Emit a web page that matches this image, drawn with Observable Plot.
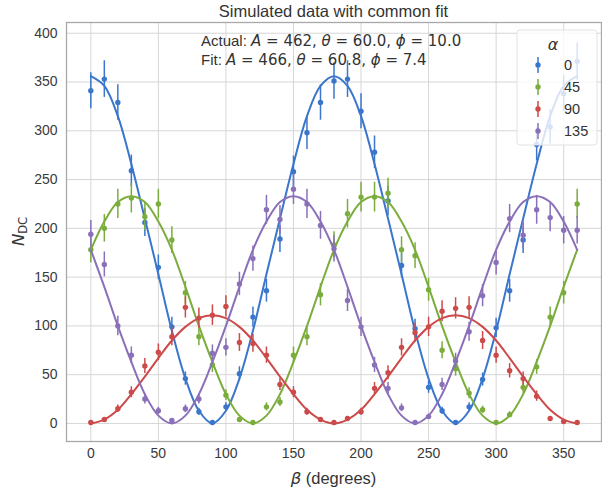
<!DOCTYPE html>
<html>
<head>
<meta charset="utf-8">
<script src="https://cdn.jsdelivr.net/npm/d3@7"></script>
<script src="https://cdn.jsdelivr.net/npm/@observablehq/plot@0.6"></script>
<style>
  html, body { margin: 0; padding: 0; background: #fff; }
  #chart { width: 602px; height: 496px; }
</style>
</head>
<body>
<div id="chart"></div>
<script>
// ---- data ----
const beta = [0,10,20,30,40,50,60,70,80,90,100,110,120,130,140,150,160,170,180,
              190,200,210,220,230,240,250,260,270,280,290,300,310,320,330,340,350,360];
const alphaLabels = ["0", "45", "90", "135"];
const colors = ["#3a76cc", "#7aad3c", "#cc4a4a", "#8a70b8"];

// measured counts N_DC for each alpha
const n0   = [341,353,329,259,206,160,99,46,12,1,17,51,109,136,189,258,298,329,351,
              353,320,278,228,162,97,37,13,1,17,45,98,136,188,286,304,338,371];
const n45  = [178,200,225,231,212,225,188,134,89,60,29,4,1,17,22,70,89,132,183,
              215,232,232,236,178,172,137,75,56,31,14,1,9,37,58,109,134,225];
const n90  = [1,4,15,32,59,73,89,119,108,111,120,83,82,70,40,32,12,4,1,
              5,12,36,52,78,93,99,115,118,119,85,70,54,46,28,5,2,1];
const n135 = [194,163,100,70,25,13,3,15,25,72,78,143,169,219,209,240,225,203,179,
              126,99,60,36,16,1,7,40,64,94,131,165,210,193,219,211,198,198];

// common-fit curves, sampled every 10 degrees
const fit0   = [356,346,315,266,210,153,95,46,13,0,13,46,95,153,210,266,315,346,356,
                346,315,266,210,153,95,46,13,0,13,46,95,153,210,266,315,346,356];
const fit45  = [178,207,227,233,227,207,178,140,100,63,30,8,0,8,30,63,100,140,178,
                207,227,233,227,207,178,140,100,63,30,8,0,8,30,63,100,140,178];
const fit90  = [0,4,14,30,48,67,85,99,108,111,108,99,85,67,48,30,14,4,0,
                4,14,30,48,67,85,99,108,111,108,99,85,67,48,30,14,4,0];
const fit135 = [178,140,100,63,30,8,0,8,30,63,100,140,178,207,227,233,227,207,178,
                140,100,63,30,8,0,8,30,63,100,140,178,207,227,233,227,207,178];

const xTicks = [0,50,100,150,200,250,300,350];
const yTicks = [0,50,100,150,200,250,300,350,400];

const counts = [n0, n45, n90, n135];
const fits = [fit0, fit45, fit90, fit135];

// ---- build marks ----
const seriesMarks = [];
counts.forEach((arr, i) => {
  const pts = beta.map((b, j) => ({beta: b, n: arr[j], err: Math.sqrt(arr[j])}));
  const curve = beta.map((b, j) => ({beta: b, v: fits[i][j]}));
  seriesMarks.push(
    Plot.ruleX(pts, {x: "beta", y1: d => d.n - d.err, y2: d => d.n + d.err,
                     stroke: colors[i], strokeWidth: 1.5}),
    Plot.dot(pts, {x: "beta", y: "n", r: 2.7, fill: colors[i], stroke: "none"}),
    Plot.line(curve, {x: "beta", y: "v", stroke: colors[i], strokeWidth: 2,
                      curve: "catmull-rom"})
  );
});

const chart = Plot.plot({
  width: 602,
  height: 496,
  marginTop: 22,
  marginBottom: 55,
  marginLeft: 66,
  marginRight: 1,
  style: {fontFamily: "'Liberation Sans', Arial, sans-serif", fontSize: "14px",
          color: "#333", background: "#fff", overflow: "visible"},
  x: {domain: [-18, 378], label: null},
  y: {domain: [-18.5, 411], label: null},
  marks: [
    Plot.gridX(xTicks, {stroke: "#d6d6d6", strokeOpacity: 1, strokeWidth: 1}),
    Plot.gridY(yTicks, {stroke: "#d6d6d6", strokeOpacity: 1, strokeWidth: 1}),
    ...seriesMarks,
    Plot.frame({stroke: "#a8a8a8", strokeWidth: 1.3}),
    Plot.axisX(xTicks, {tickSize: 0, tickPadding: 7, fontSize: 14, fill: "#3a3a3a"}),
    Plot.axisY(yTicks, {tickSize: 0, tickPadding: 9, fontSize: 14, fill: "#3a3a3a"})
  ]
});

document.getElementById("chart").appendChild(chart);

// ---- annotations: title, axis labels, fit text, legend ----
const svg = d3.select(chart);
const SANS = "'Liberation Sans', Arial, sans-serif";
const MATH = "'DejaVu Sans', sans-serif";

svg.append("text")
  .attr("x", 333.5).attr("y", 17)
  .attr("text-anchor", "middle")
  .attr("font-family", SANS).attr("font-size", 16.5).attr("fill", "#333")
  .text("Simulated data with common fit");

// x label: β (degrees)
const xl = svg.append("text")
  .attr("x", 333.5).attr("y", 484)
  .attr("text-anchor", "middle")
  .attr("font-size", 16.5).attr("fill", "#333");
xl.append("tspan").attr("font-family", MATH).attr("font-style", "italic").text("β");
xl.append("tspan").attr("font-family", SANS).text(" (degrees)");

// y label: N_DC
const yl = svg.append("text")
  .attr("transform", "translate(24,231.5) rotate(-90)")
  .attr("text-anchor", "middle")
  .attr("font-family", MATH).attr("font-size", 16.5).attr("fill", "#333");
yl.append("tspan").attr("font-style", "italic").text("N");
yl.append("tspan").attr("font-size", 11.5).attr("dy", 3).text("DC");

// fit annotation
function mathLine(y, prefix, parts) {
  const t = svg.append("text").attr("x", 201).attr("y", y)
    .attr("text-anchor", "start")
    .attr("font-size", 15).attr("fill", "#333");
  t.append("tspan").attr("font-family", SANS).text(prefix);
  parts.forEach(([s, it]) => {
    t.append("tspan").attr("font-family", MATH)
      .attr("font-style", it ? "italic" : "normal").text(s);
  });
}
mathLine(46, "Actual: ", [["A", 1], [" = 462, ", 0], ["θ", 1], [" = 60.0, ", 0], ["ϕ", 1], [" = 10.0", 0]]);
mathLine(65, "Fit: ", [["A", 1], [" = 466, ", 0], ["θ", 1], [" = 60.8, ", 0], ["ϕ", 1], [" = 7.4", 0]]);

// legend
const lg = svg.append("g");
lg.append("rect").attr("x", 517).attr("y", 30).attr("width", 80).attr("height", 115)
  .attr("rx", 3).attr("fill", "#fff").attr("fill-opacity", 0.8)
  .attr("stroke", "#e2e2e2").attr("stroke-width", 1);
lg.append("text").attr("x", 553).attr("y", 50).attr("text-anchor", "middle")
  .attr("font-family", MATH).attr("font-style", "italic").attr("font-size", 16)
  .attr("fill", "#333").text("α");
alphaLabels.forEach((lab, i) => {
  const cy = 65 + i * 22;
  lg.append("line").attr("x1", 538).attr("x2", 538).attr("y1", cy - 8).attr("y2", cy + 8)
    .attr("stroke", colors[i]).attr("stroke-width", 1.5);
  lg.append("circle").attr("cx", 538).attr("cy", cy).attr("r", 2.7).attr("fill", colors[i]);
  lg.append("text").attr("x", 564).attr("y", cy + 5)
    .attr("text-anchor", "start")
    .attr("font-family", SANS).attr("font-size", 14.5).attr("fill", "#333").text(lab);
});
</script>
</body>
</html>
